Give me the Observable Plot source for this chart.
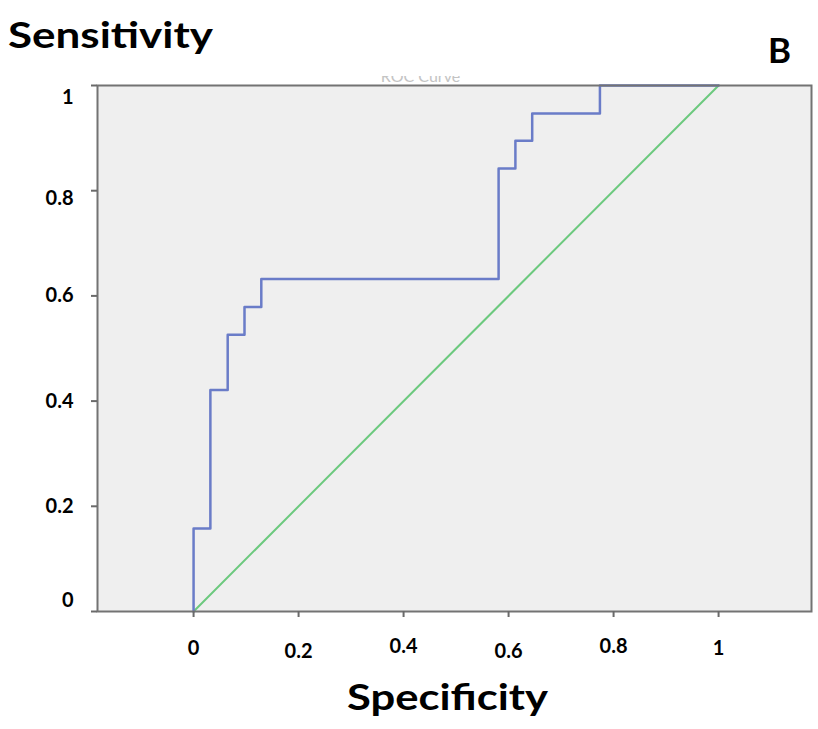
<!DOCTYPE html>
<html>
<head>
<meta charset="utf-8">
<script src="https://cdn.jsdelivr.net/npm/d3@7"></script>
<script src="https://cdn.jsdelivr.net/npm/@observablehq/plot@0.6"></script>
<style>
  html, body { margin: 0; padding: 0; background: #fff; }
  #wrap { position: relative; width: 818px; height: 729px; overflow: hidden; font-family: Lato, "Open Sans", sans-serif; }
  .ttl { position: absolute; display: inline-block; font-weight: bold; line-height: 1; color: #000; white-space: nowrap; transform-origin: 0 50%; }
  #ytitle { left: 8px; top: 16px; font-size: 36px; }
  #panel { left: 768px; top: 32px; font-size: 35px; }
  #xtitle { left: 347px; top: 677px; font-size: 37px; }
  #chart { position: absolute; left: 0; top: 76px; }
  #chart svg { overflow: hidden; }
</style>
</head>
<body>
<div id="wrap">
  <div id="chart"></div>
  <div id="ytitle" class="ttl" data-w="205">Sensitivity</div>
  <div id="panel" class="ttl">B</div>
  <div id="xtitle" class="ttl" data-w="201">Specificity</div>
</div>
<script>
// ROC curve points (x axis labelled "Specificity", y = sensitivity)
const rocX = [0, 0, 0.032, 0.065, 0.097, 0.129, 0.581, 0.613, 0.645, 0.774, 1];
const rocY = [0, 0.158, 0.421, 0.526, 0.579, 0.632, 0.842, 0.895, 0.947, 1, 1];
const refX = [0, 1];
const refY = [0, 1];
const xTicksEnds = [0, 1];
const xTicksHigh = [0.4, 0.8];
const xTicksLow = [0.2, 0.6];
const yTicksAll = [0, 0.2, 0.4, 0.6, 0.8, 1];
const yTicksMid = [0.2, 0.4, 0.6];
const yTickTop = [1];
const yTick08 = [0.8];
const yTickZero = [0];
const plotTitle = ["ROC Curve"];

const roc = rocX.map((x, i) => ({x, y: rocY[i]}));
const ref = refX.map((x, i) => ({x, y: refY[i]}));

const fmt = d => String(d);
const labelFont = {fontSize: 20, fontWeight: "bold", fill: "#000", tickFormat: fmt, label: null};
const tickStroke = {stroke: "#6a6a6a", strokeWidth: 2};

const chart = Plot.plot({
  width: 818,
  height: 594,
  marginLeft: 97,
  marginRight: 7,
  marginTop: 9,
  marginBottom: 59,
  style: {fontFamily: "Lato, 'Open Sans', sans-serif", background: "transparent", overflow: "hidden"},
  x: {domain: [-0.183, 1.177]},
  y: {domain: [0, 1]},
  marks: [
    Plot.frame({fill: "#efefef", stroke: "none"}),
    Plot.text(plotTitle, {frameAnchor: "top", text: d => d, dx: -34, dy: -4, lineAnchor: "bottom", fontSize: 16, fill: "#c4c4c4"}),
    Plot.line(ref, {x: "x", y: "y", stroke: "#6cc97e", strokeWidth: 2}),
    Plot.line(roc, {x: "x", y: "y", curve: "step-after", stroke: "#6a7cc8", strokeWidth: 2.5}),
    Plot.frame({stroke: "#737373", strokeWidth: 2}),
    Plot.axisX(xTicksEnds, {tickSize: 6, tickPadding: 23, ...tickStroke, ...labelFont}),
    Plot.axisX(xTicksHigh, {tickSize: 6, tickPadding: 21, ...tickStroke, ...labelFont}),
    Plot.axisX(xTicksLow, {tickSize: 6, tickPadding: 26, ...tickStroke, ...labelFont}),
    Plot.axisY(yTicksAll, {tickSize: 6, text: null, ...tickStroke, label: null}),
    Plot.axisY(yTicksMid, {tickSize: 0, tickPadding: 24, ...labelFont}),
    Plot.axisY(yTickTop, {tickSize: 0, tickPadding: 24, dy: 12, ...labelFont}),
    Plot.axisY(yTick08, {tickSize: 0, tickPadding: 24, dy: 8, ...labelFont}),
    Plot.axisY(yTickZero, {tickSize: 0, tickPadding: 24, dy: -11, ...labelFont})
  ]
});
document.getElementById("chart").appendChild(chart);

// stretch the titles horizontally to the reference's width
document.querySelectorAll(".ttl[data-w]").forEach(el => {
  const w = el.getBoundingClientRect().width;
  const target = +el.dataset.w;
  el.style.transform = `scaleX(${target / w})`;
});
</script>
</body>
</html>
